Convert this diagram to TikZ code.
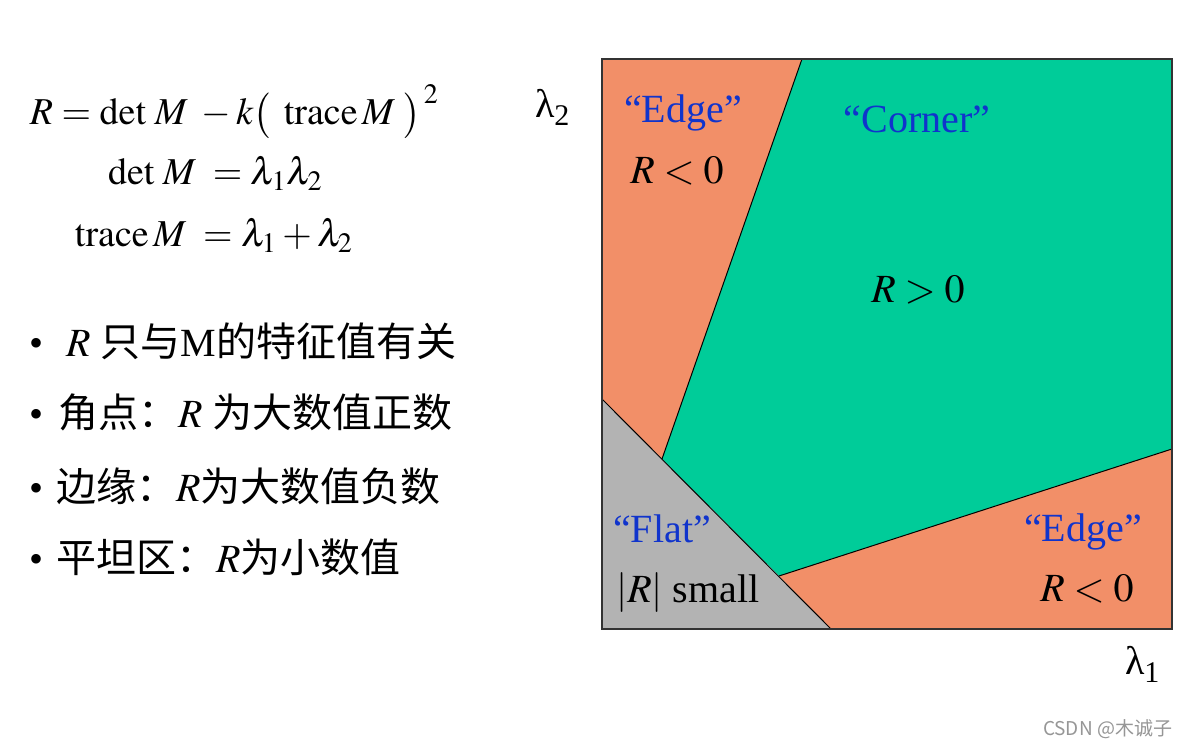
\documentclass[tikz,border=0pt]{standalone}
\usepackage{amsmath}
\usepackage{mathptmx}
\usepackage[no-math]{fontspec}
\setmainfont{Liberation Serif}
\newfontfamily\cjk{Noto Sans CJK SC}
\definecolor{edgeorange}{RGB}{242,143,104}
\definecolor{cornergreen}{RGB}{0,204,153}
\definecolor{flatgray}{RGB}{179,179,179}
\definecolor{tagblue}{RGB}{16,52,204}
\definecolor{markgray}{RGB}{150,150,150}

\begin{document}
\begin{tikzpicture}[
  x=0.5pt, y=-0.5pt,
  every node/.style={inner sep=0pt, outer sep=0pt},
  tag/.style={anchor=base, text=tagblue, font=\fontsize{20}{24}\selectfont},
  val/.style={anchor=base, font=\fontsize{20}{24}\selectfont},
  eqn/.style={anchor=base west, font=\fontsize{19}{23}\selectfont},
  item/.style={anchor=base west, font=\fontsize{20}{24}\selectfont},
  border/.style={draw=black!80, line width=0.75pt},
  cut/.style={draw=black, line width=0.5pt},
]
  \fill[white] (0,0) rectangle (1196,747);
  \useasboundingbox (0,0) rectangle (1196,747);

  % formulas
  \node[eqn] (eqR) at (30,125) {$R = \det\, M\; - k\bigl(\;\,\mathrm{trace}\, M\;\bigr)^{\,2}$};
  \node[eqn] (eqdet) at (108,185) {$\det\, M\; = \lambda_1\lambda_2$};
  \node[eqn] (eqtr) at (75,247) {$\mathrm{trace}\, M\; = \lambda_1 + \lambda_2$};

  % bullet list
  \node[item] (b1) at (30,357) {\textbullet\hspace{11pt}$R$ {\cjk 只与}M{\cjk 的特征值有关}};
  \node[item] (b2) at (30,428) {\textbullet\hspace{7pt}{\cjk 角点：}$R$ {\cjk 为大数值正数}};
  \node[item] (b3) at (30,502) {\textbullet\hspace{6pt}{\cjk 边缘：}$R${\cjk 为大数值负数}};
  \node[item] (b4) at (30,573) {\textbullet\hspace{6pt}{\cjk 平坦区：}$R${\cjk 为小数值}};

  % region corners and cuts
  \coordinate (tl) at (602,59);  \coordinate (tr) at (1172,59);
  \coordinate (bl) at (602,629); \coordinate (br) at (1172,629);
  \coordinate (topcut) at (802,59);  \coordinate (midup) at (662,459);
  \coordinate (leftcut) at (602,399); \coordinate (botcut) at (831,629);
  \coordinate (midlow) at (779,576); \coordinate (rightcut) at (1172,449);

  \fill[edgeorange] (tl) -- (topcut) -- (midup) -- (leftcut) -- cycle;
  \fill[cornergreen] (topcut) -- (tr) -- (rightcut) -- (midlow) -- (midup) -- cycle;
  \fill[edgeorange] (midlow) -- (rightcut) -- (br) -- (botcut) -- cycle;
  \fill[flatgray] (leftcut) -- (botcut) -- (bl) -- cycle;
  \draw[cut] (topcut) -- (midup);
  \draw[cut] (leftcut) -- (botcut);
  \draw[cut] (midlow) -- (rightcut);
  \draw[border] (tl) rectangle (br);

  % axis labels
  \node[val, anchor=base west] (lamtwo) at (535,118) {λ\raisebox{-4pt}{\fontsize{15}{18}\selectfont 2}};
  \node[val, anchor=base west] (lamone) at (1125,675) {λ\raisebox{-4pt}{\fontsize{15}{18}\selectfont 1}};

  % region labels
  \node[tag] (edgeup) at (683,123) {“Edge”};
  \node[val] (negup) at (677,184) {$R < 0$};
  \node[tag] (corner) at (917,133) {“Corner”};
  \node[val] (pos) at (918,303) {$R > 0$};
  \node[tag] (flat) at (662,543) {“Flat”};
  \node[val] (small) at (688,603) {$|R|$ small};
  \node[tag] (edgelow) at (1083,542) {“Edge”};
  \node[val] (neglow) at (1087,602) {$R < 0$};

  \node[anchor=base east, text=markgray, font=\cjk\fontsize{9.5}{11}\selectfont] (mark) at (1172,736) {CSDN @木诚子};
\end{tikzpicture}
\end{document}
